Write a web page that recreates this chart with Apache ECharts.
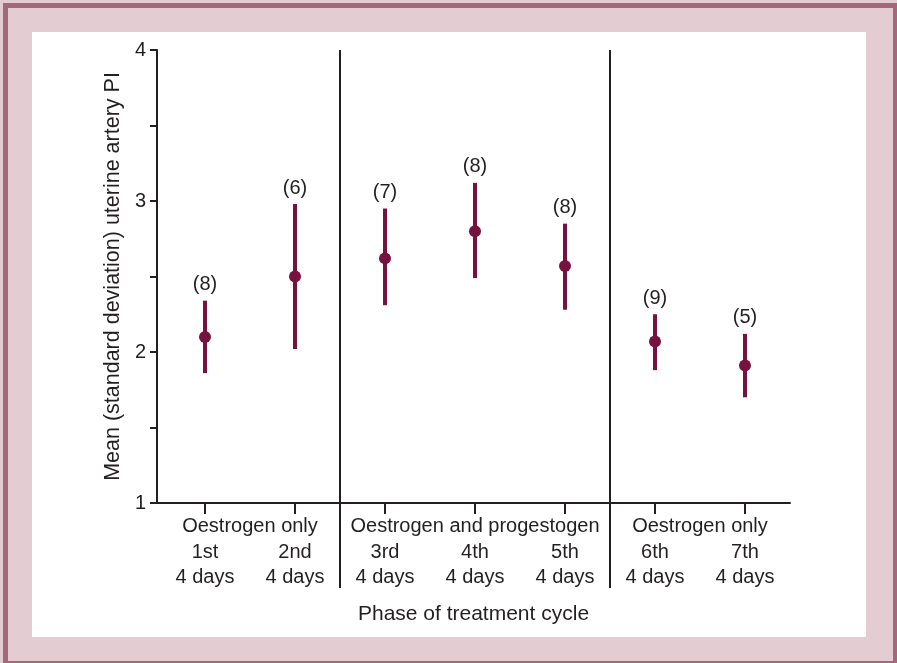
<!DOCTYPE html>
<html>
<head>
<meta charset="utf-8">
<script src="https://cdn.jsdelivr.net/npm/echarts@6/dist/echarts.min.js"></script>
<style>
  html, body { margin: 0; padding: 0; background: #E4CCD3; }
  #frame { position: absolute; left: 3px; top: 3px; width: 894px; height: 660px; box-sizing: border-box;
           border: 5px solid #A4677C; border-bottom-width: 2px; border-right-width: 4px; background: #E4CCD3; }
  #panel { position: absolute; left: 32px; top: 32px; width: 834px; height: 605px; background: #ffffff; }
  #chart { position: absolute; left: 0; top: 0; width: 897px; height: 663px; }
</style>
</head>
<body>
<div id="frame"></div>
<div id="panel"></div>
<div id="chart"></div>
<script>
// Treatment phases (x positions 1..7)
const phases = ['1st', '2nd', '3rd', '4th', '5th', '6th', '7th'];
const phaseSub = '4 days';
const groupNames = ['Oestrogen only', 'Oestrogen and progestogen', 'Oestrogen only'];
const groupCentres = [1.5, 4, 6.5];
const separators = [2.5, 5.5];

// Mean uterine artery PI and the ±1 SD range
const meanPI = [2.10, 2.50, 2.62, 2.80, 2.57, 2.07, 1.91];
const lowPI  = [1.86, 2.02, 2.31, 2.49, 2.28, 1.88, 1.70];
const highPI = [2.34, 2.98, 2.95, 3.12, 2.85, 2.25, 2.12];
const nSubjects = [8, 6, 7, 8, 8, 9, 5];

const yTicks = [1, 2, 3, 4];

const FONT = "'Liberation Sans', Arial, sans-serif";
const INK = '#231f20';
const MAROON = '#75123F';

const xPos = phases.map((_, i) => i + 1);
const points = xPos.map((x, i) => [x, meanPI[i], lowPI[i], highPI[i], nSubjects[i]]);

const chart = echarts.init(document.getElementById('chart'), null, { renderer: 'canvas' });

const xBase = { type: 'value', min: 0.4667, max: 7.5, splitLine: { show: false } };

chart.setOption({
  backgroundColor: 'transparent',
  animation: false,
  grid: [
    { left: 157, right: 107, top: 50, bottom: 160 },
    { left: 157, right: 107, top: 50, bottom: 75 }
  ],
  xAxis: [
    Object.assign({}, xBase, {
      gridIndex: 0,
      name: 'Phase of treatment cycle',
      nameLocation: 'middle',
      nameGap: 101,
      nameTextStyle: { fontFamily: FONT, fontSize: 21, color: INK },
      axisLine: { show: true, lineStyle: { color: INK, width: 2 } },
      axisTick: { show: true, customValues: xPos, length: 11, lineStyle: { color: INK, width: 2 } },
      axisLabel: {
        customValues: xPos,
        margin: 37,
        fontFamily: FONT, fontSize: 20, color: INK, lineHeight: 25, align: 'center',
        formatter: v => phases[Math.round(v) - 1] + '\n' + phaseSub
      }
    }),
    Object.assign({}, xBase, {
      gridIndex: 0,
      position: 'bottom',
      axisLine: { show: false },
      axisTick: { show: false },
      axisLabel: {
        customValues: groupCentres,
        margin: 13,
        fontFamily: FONT, fontSize: 20, color: INK,
        formatter: v => groupNames[groupCentres.indexOf(v)]
      }
    }),
    Object.assign({}, xBase, {
      gridIndex: 1,
      show: false
    })
  ],
  yAxis: [
    {
      gridIndex: 0,
      type: 'value', min: 1, max: 4, interval: 0.5,
      name: 'Mean (standard deviation) uterine artery PI',
      nameLocation: 'middle',
      nameGap: 27,
      nameTextStyle: { fontFamily: FONT, fontSize: 21.5, color: INK },
      axisLine: { show: true, lineStyle: { color: INK, width: 2 } },
      axisTick: { show: true, length: 7, lineStyle: { color: INK, width: 2 } },
      axisLabel: {
        margin: 11, fontFamily: FONT, fontSize: 20, color: INK,
        formatter: v => (yTicks.indexOf(v) >= 0 ? String(v) : '')
      },
      splitLine: { show: false }
    },
    { gridIndex: 1, type: 'value', min: 0, max: 1, show: false }
  ],
  series: [
    {
      type: 'custom',
      xAxisIndex: 0, yAxisIndex: 0,
      data: points,
      encode: { x: 0, y: [1, 2, 3] },
      renderItem: function (params, api) {
        const x = api.value(0);
        const mid = api.coord([x, api.value(1)]);
        const lo = api.coord([x, api.value(2)]);
        const hi = api.coord([x, api.value(3)]);
        return {
          type: 'group',
          children: [
            { type: 'line', shape: { x1: hi[0], y1: hi[1], x2: lo[0], y2: lo[1] },
              style: { stroke: MAROON, lineWidth: 4 } },
            { type: 'circle', shape: { cx: mid[0], cy: mid[1], r: 6 },
              style: { fill: MAROON } },
            { type: 'text', x: hi[0], y: hi[1] - 6,
              style: { text: '(' + api.value(4) + ')', fill: INK, font: '20px ' + FONT,
                       textAlign: 'center', textVerticalAlign: 'bottom' } }
          ]
        };
      }
    },
    {
      type: 'line',
      xAxisIndex: 2, yAxisIndex: 1,
      data: [],
      silent: true,
      markLine: {
        silent: true,
        symbol: 'none',
        label: { show: false },
        lineStyle: { color: INK, width: 2, type: 'solid' },
        data: separators.map(v => ({ xAxis: v }))
      }
    }
  ]
});
</script>
</body>
</html>
